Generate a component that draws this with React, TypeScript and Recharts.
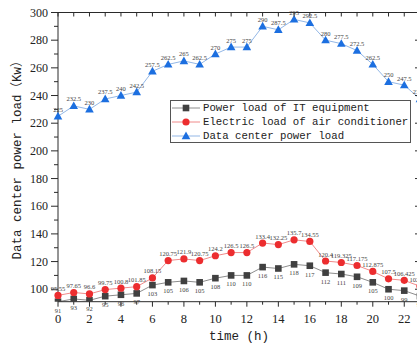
import React from 'react';
import { LineChart, Line, XAxis, YAxis, Legend } from 'recharts';

const hours = [0, 1, 2, 3, 4, 5, 6, 7, 8, 9, 10, 11, 12, 13, 14, 15, 16, 17, 18, 19, 20, 21, 22, 23];
const itLoad = [91, 93, 92, 95, 96, 97, 103, 105, 106, 105, 108, 110, 110, 116, 115, 118, 117, 112, 111, 109, 105, 100, 99, 95];
const acLoad = [95.55, 97.65, 96.6, 99.75, 100.8, 101.85, 108.15, 120.75, 121.9, 120.75, 124.2, 126.5, 126.5, 133.4, 132.25, 135.7, 134.55, 120.4, 119.325, 117.175, 112.875, 107.5, 106.425, 102.125];
const dcLoad = [225, 232.5, 230, 237.5, 240, 242.5, 257.5, 262.5, 265, 262.5, 270, 275, 275, 290, 287.5, 295, 292.5, 280, 277.5, 272.5, 262.5, 250, 247.5, 237.5];

const yTicks = [100, 110, 120, 130, 140, 150, 160, 170, 180, 190, 200, 210, 220, 230, 240, 250, 260, 270, 280, 290, 300];
const yMajorTicks = [100, 120, 140, 160, 180, 200, 220, 240, 260, 280, 300];
const xTitle = 'time (h)';
const yTitle = 'Data center power load（Kw）';
const seriesNames = ['Power load of IT equipment', 'Electric load of air conditioner', 'Data center power load'];

const data = hours.map((h, i) => ({ hour: h, it: itLoad[i], ac: acLoad[i], dc: dcLoad[i] }));

const SERIF = '"Liberation Serif", "Times New Roman", serif';
const MONO = '"Liberation Mono", "DejaVu Sans Mono", "Noto Sans CJK SC", monospace';
const AXIS = '#2a2a2a';

const COLORS = {
  it: { line: '#8c8c8c', mark: '#404040' },
  ac: { line: '#f08a8a', mark: '#ec2d2f' },
  dc: { line: '#93b7e6', mark: '#1c6fe0' },
};

const LeftTick = (props: any) => {
  const { x, y, payload } = props;
  const major = payload.value % 20 === 0;
  return (
    <g>
      <line x1={x - (major ? 7 : 4)} x2={x} y1={y} y2={y} stroke={AXIS} strokeWidth={1} />
      {major && (
        <text x={x - 10} y={y} textAnchor="end" dominantBaseline="central" fontFamily={SERIF} fontSize={12} fill="#222">
          {payload.value}
        </text>
      )}
    </g>
  );
};

const RightTick = (props: any) => {
  const { x, y } = props;
  return <line x1={x - 5} x2={x} y1={y} y2={y} stroke={AXIS} strokeWidth={1} />;
};

const BottomTick = (props: any) => {
  const { x, y, payload } = props;
  const major = payload.value % 2 === 0;
  return (
    <g>
      <line x1={x} x2={x} y1={y} y2={y + (major ? 5 : 3)} stroke={AXIS} strokeWidth={1} />
      {major && (
        <text x={x} y={y + 17.5} textAnchor="middle" dominantBaseline="central" fontFamily={SERIF} fontSize={12.5} fill="#222">
          {payload.value}
        </text>
      )}
    </g>
  );
};

const TopTick = (props: any) => {
  const { x, y } = props;
  return <line x1={x} x2={x} y1={y} y2={y + 4} stroke={AXIS} strokeWidth={1} />;
};

const SquareDot = (props: any) => {
  const { cx, cy } = props;
  if (cx == null || cy == null) return null;
  return <rect x={cx - 3.3} y={cy - 3.3} width={6.6} height={6.6} fill={COLORS.it.mark} />;
};
const CircleDot = (props: any) => {
  const { cx, cy } = props;
  if (cx == null || cy == null) return null;
  return <circle cx={cx} cy={cy} r={3.6} fill={COLORS.ac.mark} />;
};
const TriDot = (props: any) => {
  const { cx, cy } = props;
  if (cx == null || cy == null) return null;
  return <polygon points={`${cx},${cy - 4.5} ${cx - 4.3},${cy + 3.2} ${cx + 4.3},${cy + 3.2}`} fill={COLORS.dc.mark} />;
};

const makeLabel = (dy: number) => (props: any) => {
  const { x, y, value } = props;
  if (x == null || y == null) return null;
  return (
    <text x={x} y={y + dy} textAnchor="middle" dominantBaseline="central" fontFamily={SERIF} fontSize={6.5} fill="#444">
      {value}
    </text>
  );
};

const LegendSymbol = ({ kind }: { kind: 'it' | 'ac' | 'dc' }) => {
  const c = COLORS[kind];
  return (
    <svg width={30} height={10} style={{ display: 'block' }}>
      <line x1={1} x2={29} y1={5} y2={5} stroke={c.line} strokeWidth={1} />
      {kind === 'it' && <rect x={11.7} y={1.7} width={6.6} height={6.6} fill={c.mark} />}
      {kind === 'ac' && <circle cx={15} cy={5} r={3.6} fill={c.mark} />}
      {kind === 'dc' && <polygon points="15,0.5 10.7,8.2 19.3,8.2" fill={c.mark} />}
    </svg>
  );
};

const LegendBox = () => {
  const kinds: ('it' | 'ac' | 'dc')[] = ['it', 'ac', 'dc'];
  return (
    <div
      style={{
        border: '1px solid #555',
        background: '#fff',
        width: 241,
        height: 43,
        boxSizing: 'border-box',
      }}
    >
      {kinds.map((k, i) => (
        <div key={k} style={{ display: 'flex', alignItems: 'center', height: 14 }}>
          <LegendSymbol kind={k} />
          <span
            style={{
              fontFamily: MONO,
              fontSize: 10.7,
              color: '#222',
              marginLeft: 2,
              whiteSpace: 'nowrap',
              lineHeight: '14px',
            }}
          >
            {seriesNames[i]}
          </span>
        </div>
      ))}
    </div>
  );
};

export default function App() {
  return (
    <div
      style={{
        position: 'fixed',
        left: 0,
        top: 0,
        width: 417,
        height: 347,
        overflow: 'hidden',
        background: '#fff',
      }}
    >
      <LineChart width={480} height={347} data={data} margin={{ top: 0, right: 0, bottom: 0, left: 0 }}>
        <XAxis
          xAxisId="bottom"
          dataKey="hour"
          type="number"
          domain={[0, 23]}
          ticks={hours}
          interval={0}
          height={45.3}
          tickSize={0}
          tickMargin={0}
          tickLine={false}
          tick={<BottomTick />}
          axisLine={{ stroke: AXIS }}
        />
        <XAxis
          xAxisId="top"
          orientation="top"
          dataKey="hour"
          type="number"
          domain={[0, 23]}
          ticks={hours}
          interval={0}
          height={12.5}
          tickSize={0}
          tickMargin={0}
          tickLine={false}
          tick={<TopTick />}
          axisLine={{ stroke: AXIS }}
        />
        <YAxis
          yAxisId="left"
          type="number"
          domain={[91, 300]}
          ticks={yTicks}
          interval={0}
          width={58}
          tickSize={0}
          tickMargin={0}
          tickLine={false}
          tick={<LeftTick />}
          axisLine={{ stroke: AXIS }}
          allowDataOverflow
        />
        <YAxis
          yAxisId="right"
          orientation="right"
          type="number"
          domain={[91, 300]}
          ticks={yMajorTicks}
          interval={0}
          width={60}
          tickSize={0}
          tickMargin={0}
          tickLine={false}
          tick={<RightTick />}
          axisLine={{ stroke: AXIS }}
          allowDataOverflow
        />
        <Line
          xAxisId="bottom"
          yAxisId="left"
          dataKey="it"
          name={seriesNames[0]}
          stroke={COLORS.it.line}
          strokeWidth={1}
          dot={<SquareDot />}
          activeDot={false}
          label={makeLabel(8.5)}
          isAnimationActive={false}
        />
        <Line
          xAxisId="bottom"
          yAxisId="left"
          dataKey="ac"
          name={seriesNames[1]}
          stroke={COLORS.ac.line}
          strokeWidth={1}
          dot={<CircleDot />}
          activeDot={false}
          label={makeLabel(-7)}
          isAnimationActive={false}
        />
        <Line
          xAxisId="bottom"
          yAxisId="left"
          dataKey="dc"
          name={seriesNames[2]}
          stroke={COLORS.dc.line}
          strokeWidth={1}
          dot={<TriDot />}
          activeDot={false}
          label={makeLabel(-7)}
          isAnimationActive={false}
        />
        <Legend
          layout="vertical"
          align="center"
          verticalAlign="middle"
          wrapperStyle={{ left: 170, top: 100, width: 241, height: 43, right: 'auto', bottom: 'auto' }}
          content={<LegendBox />}
        />
      </LineChart>
      <div
        style={{
          position: 'absolute',
          left: 139,
          top: 328,
          width: 200,
          textAlign: 'center',
          fontFamily: MONO,
          fontSize: 12.5,
          lineHeight: '18px',
          color: '#222',
          whiteSpace: 'nowrap',
        }}
      >
        {xTitle}
      </div>
      <div
        style={{
          position: 'absolute',
          left: 18 - 150,
          top: 157 - 9,
          width: 300,
          height: 18,
          textAlign: 'center',
          fontFamily: MONO,
          fontSize: 12.5,
          lineHeight: '18px',
          color: '#222',
          whiteSpace: 'nowrap',
          transform: 'rotate(-90deg)',
          transformOrigin: '150px 9px',
        }}
      >
        {yTitle}
      </div>
    </div>
  );
}
